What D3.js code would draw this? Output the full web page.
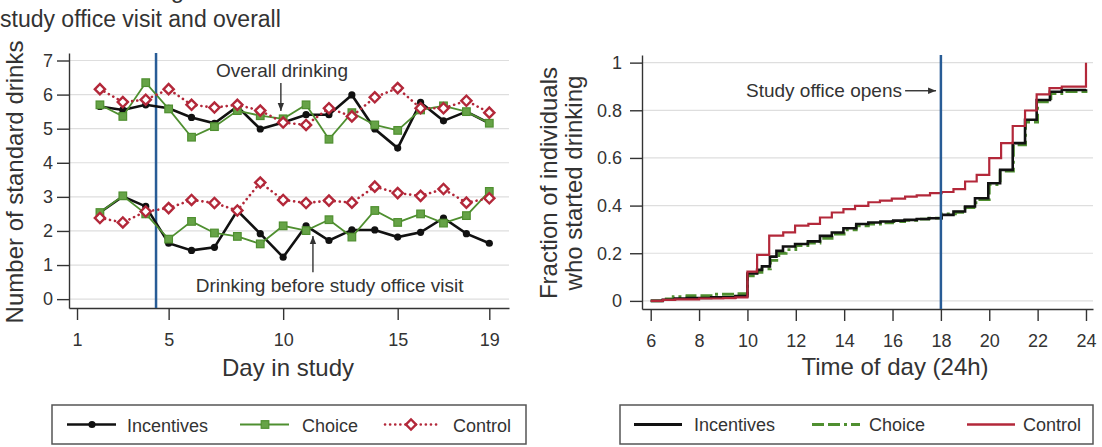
<!DOCTYPE html>
<html>
<head>
<meta charset="utf-8">
<script src="https://cdn.jsdelivr.net/npm/d3@7"></script>
<style>
  body { margin: 0; background: #fff; }
  svg { display: block; }
</style>
</head>
<body>
<svg id="chart" width="1102" height="447"></svg>
<script>
// ---- data: panel A, mean drinks per day in study ----
const days = [2, 3, 4, 5, 6, 7, 8, 9, 10, 11, 12, 13, 14, 15, 16, 17, 18, 19];
const incentivesOverall = [5.65, 5.55, 5.70, 5.60, 5.33, 5.16, 5.65, 4.99, 5.18, 5.41, 5.41, 5.99, 4.99, 4.43, 5.77, 5.23, 5.50, 5.16];
const choiceOverall = [5.70, 5.36, 6.35, 5.58, 4.75, 5.06, 5.53, 5.38, 5.29, 5.70, 4.69, 5.47, 5.11, 4.95, 5.55, 5.67, 5.50, 5.16];
const controlOverall = [6.16, 5.78, 5.85, 6.16, 5.70, 5.62, 5.70, 5.53, 5.18, 5.11, 5.60, 5.36, 5.92, 6.19, 5.60, 5.60, 5.82, 5.47];
const incentivesBefore = [2.54, 3.01, 2.72, 1.64, 1.43, 1.52, 2.60, 1.92, 1.23, 2.15, 1.72, 2.03, 2.03, 1.82, 1.96, 2.38, 1.92, 1.64];
const choiceBefore = [2.54, 3.03, 2.50, 1.76, 2.28, 1.94, 1.84, 1.62, 2.15, 2.01, 2.33, 1.82, 2.60, 2.25, 2.50, 2.23, 2.45, 3.16];
const controlBefore = [2.38, 2.25, 2.57, 2.67, 2.91, 2.82, 2.60, 3.42, 2.91, 2.82, 2.89, 2.83, 3.30, 3.11, 3.03, 3.23, 2.83, 2.96];
const leftYTicks = [0, 1, 2, 3, 4, 5, 6, 7];
const leftXTicks = [1, 5, 10, 15, 19];
const visitDay = 4.45;

// ---- data: panel B, cumulative share who started drinking, [hour, share] ----
const incentivesSteps = [[6, 0], [6.5, 0.005], [7, 0.01], [7.5, 0.012], [8.5, 0.015], [9.5, 0.02], [10, 0.115], [10.4, 0.13], [10.6, 0.145], [10.93, 0.186], [11.2, 0.21], [11.47, 0.228], [11.97, 0.239], [12.5, 0.25], [13.0, 0.273], [13.49, 0.287], [13.97, 0.305], [14.5, 0.323], [15.0, 0.329], [15.5, 0.333], [16.03, 0.337], [16.5, 0.34], [17.0, 0.344], [17.5, 0.347], [18.03, 0.361], [18.52, 0.375], [19.0, 0.396], [19.41, 0.431], [19.96, 0.494], [20.45, 0.55], [20.97, 0.662], [21.48, 0.76], [21.96, 0.843], [22.51, 0.878], [23.0, 0.885], [24, 0.888]];
const choiceSteps = [[6, 0], [6.5, 0.008], [6.93, 0.018], [7.5, 0.022], [8.6, 0.028], [9.5, 0.03], [10, 0.105], [10.4, 0.12], [10.6, 0.135], [10.95, 0.17], [11.3, 0.2], [11.6, 0.215], [12.0, 0.232], [12.5, 0.243], [13.0, 0.262], [13.5, 0.28], [14.0, 0.298], [14.5, 0.315], [15.0, 0.322], [15.5, 0.328], [16.0, 0.333], [16.5, 0.338], [17.0, 0.343], [17.5, 0.347], [18.03, 0.365], [18.6, 0.372], [19.0, 0.392], [19.45, 0.425], [20.0, 0.488], [20.45, 0.545], [21.0, 0.655], [21.5, 0.75], [22.0, 0.835], [22.55, 0.87], [23.0, 0.878], [24, 0.882]];
const controlSteps = [[6, 0], [6.5, 0.004], [7, 0.006], [8, 0.01], [9, 0.012], [9.5, 0.015], [10, 0.123], [10.4, 0.193], [10.9, 0.274], [11.48, 0.288], [11.97, 0.316], [12.52, 0.323], [13.0, 0.35], [13.49, 0.371], [13.97, 0.385], [14.45, 0.399], [15.0, 0.414], [15.48, 0.421], [15.97, 0.429], [16.52, 0.438], [17.0, 0.443], [17.55, 0.452], [18.03, 0.457], [18.52, 0.469], [19.0, 0.501], [19.48, 0.529], [20.0, 0.599], [20.49, 0.662], [20.97, 0.734], [21.48, 0.799], [21.96, 0.867], [22.49, 0.893], [23.0, 0.899], [24, 1.0]];
const rightYTicks = [0, 0.2, 0.4, 0.6, 0.8, 1];
const rightXTicks = [6, 8, 10, 12, 14, 16, 18, 20, 22, 24];
const officeOpens = 18;

const groups = ['Incentives', 'Choice', 'Control'];

// ---- styles ----
const font = '"Liberation Sans", Arial, Helvetica, sans-serif';
const ink = '#333';
const axisCol = '#333';
const gridCol = '#dedede';
const colInc = '#111';
const colCho = '#4f8f30';
const colCon = '#b3283a';
const colVisit = '#285c96';

const svg = d3.select('#chart').attr('font-family', font);
const defs = svg.append('defs');
defs.append('marker')
  .attr('id', 'arrow')
  .attr('viewBox', '0 -5 10 10')
  .attr('refX', 10)
  .attr('refY', 0)
  .attr('markerWidth', 8)
  .attr('markerHeight', 8)
  .attr('markerUnits', 'userSpaceOnUse')
  .attr('orient', 'auto')
  .append('path')
  .attr('d', 'M0,-4L10,0L0,4Z')
  .attr('fill', ink);

function styleAxis(g) {
  g.attr('font-size', 18).attr('font-family', font);
  g.select('.domain').attr('stroke', axisCol).attr('stroke-width', 1.4);
  g.selectAll('.tick line').attr('stroke', axisCol).attr('stroke-width', 1.4);
  g.selectAll('.tick text').attr('fill', ink);
}

// ================= Panel A =================
const xL = d3.scaleLinear().domain([0.65, 19.86]).range([69, 509]);
const yL = d3.scaleLinear().domain([-0.26, 7.22]).range([308, 53]);

// partly cut first title line, then the second line
svg.append('text').attr('x', 0).attr('y', -2.5).attr('font-size', 24).attr('fill', ink).text('Panel A. Drinking before');
svg.append('text').attr('x', 0).attr('y', 27).attr('font-size', 23).attr('fill', ink).text('study office visit and overall');

svg.append('g')
  .selectAll('line')
  .data(leftYTicks)
  .join('line')
  .attr('x1', xL.range()[0])
  .attr('x2', xL.range()[1])
  .attr('y1', (d) => yL(d))
  .attr('y2', (d) => yL(d))
  .attr('stroke', gridCol)
  .attr('stroke-width', 1.2);

const axLY = svg.append('g')
  .attr('transform', `translate(${xL.range()[0]},0)`)
  .call(d3.axisLeft(yL).tickValues(leftYTicks).tickSize(12).tickSizeOuter(0).tickPadding(4));
styleAxis(axLY);

const axLX = svg.append('g')
  .attr('transform', `translate(0,${yL.range()[0]})`)
  .call(d3.axisBottom(xL).tickValues(leftXTicks).tickSize(12).tickSizeOuter(0).tickPadding(13));
styleAxis(axLX);

svg.append('line')
  .attr('x1', xL(visitDay)).attr('x2', xL(visitDay))
  .attr('y1', yL.range()[1]).attr('y2', yL.range()[0])
  .attr('stroke', colVisit).attr('stroke-width', 2.5);

const lineL = d3.line().x((d, i) => xL(days[i])).y((d) => yL(d));

function drawSeries(values, kind) {
  const g = svg.append('g');
  if (kind === 'Incentives') {
    g.append('path').attr('d', lineL(values)).attr('fill', 'none').attr('stroke', colInc).attr('stroke-width', 2.6);
    g.selectAll('circle').data(values).join('circle')
      .attr('cx', (d, i) => xL(days[i])).attr('cy', (d) => yL(d)).attr('r', 3.6).attr('fill', colInc);
  } else if (kind === 'Choice') {
    g.append('path').attr('d', lineL(values)).attr('fill', 'none').attr('stroke', colCho).attr('stroke-width', 1.8);
    g.selectAll('rect').data(values).join('rect')
      .attr('x', (d, i) => xL(days[i]) - 3.8).attr('y', (d) => yL(d) - 3.8)
      .attr('width', 7.6).attr('height', 7.6)
      .attr('fill', '#66a347').attr('stroke', colCho).attr('stroke-width', 1.2);
  } else {
    g.append('path').attr('d', lineL(values)).attr('fill', 'none').attr('stroke', colCon)
      .attr('stroke-width', 2.6).attr('stroke-linecap', 'round').attr('stroke-dasharray', '0.1,5');
    g.selectAll('path.mk').data(values).join('path').attr('class', 'mk')
      .attr('d', d3.symbol(d3.symbolSquare, 52)())
      .attr('transform', (d, i) => `translate(${xL(days[i])},${yL(d)}) rotate(45)`)
      .attr('fill', '#fff').attr('stroke', colCon).attr('stroke-width', 2.4);
  }
}
drawSeries(incentivesOverall, 'Incentives');
drawSeries(incentivesBefore, 'Incentives');
drawSeries(choiceOverall, 'Choice');
drawSeries(choiceBefore, 'Choice');
drawSeries(controlOverall, 'Control');
drawSeries(controlBefore, 'Control');

// annotations
svg.append('text').attr('x', xL(9.95)).attr('y', yL(6.52)).attr('text-anchor', 'middle')
  .attr('font-size', 19).attr('fill', ink).text('Overall drinking');
svg.append('line').attr('x1', xL(9.9)).attr('x2', xL(9.9)).attr('y1', yL(6.34)).attr('y2', yL(5.52))
  .attr('stroke', ink).attr('stroke-width', 1.4).attr('marker-end', 'url(#arrow)');
svg.append('text').attr('x', xL(12.03)).attr('y', yL(0.22)).attr('text-anchor', 'middle')
  .attr('font-size', 19).attr('fill', ink).text('Drinking before study office visit');
svg.append('line').attr('x1', xL(11.3)).attr('x2', xL(11.3)).attr('y1', yL(0.79)).attr('y2', yL(1.85))
  .attr('stroke', ink).attr('stroke-width', 1.4).attr('marker-end', 'url(#arrow)');

svg.append('text').attr('transform', 'translate(23,182) rotate(-90)').attr('text-anchor', 'middle')
  .attr('font-size', 24).attr('fill', ink).text('Number of standard drinks');
svg.append('text').attr('x', 288).attr('y', 376).attr('text-anchor', 'middle')
  .attr('font-size', 24).attr('fill', ink).text('Day in study');

// legend A
const legA = svg.append('g');
legA.append('rect').attr('x', 52).attr('y', 405).attr('width', 474).attr('height', 39)
  .attr('fill', '#fff').attr('stroke', '#555').attr('stroke-width', 1.5);
const legAx = [67, 240, 385];
groups.forEach((name, i) => {
  const x0 = legAx[i], xm = x0 + 25, yy = 424.5;
  if (name === 'Incentives') {
    legA.append('line').attr('x1', x0).attr('x2', x0 + 49).attr('y1', yy).attr('y2', yy).attr('stroke', colInc).attr('stroke-width', 2.6);
    legA.append('circle').attr('cx', xm).attr('cy', yy).attr('r', 3.6).attr('fill', colInc);
  } else if (name === 'Choice') {
    legA.append('line').attr('x1', x0).attr('x2', x0 + 49).attr('y1', yy).attr('y2', yy).attr('stroke', colCho).attr('stroke-width', 1.8);
    legA.append('rect').attr('x', xm - 3.8).attr('y', yy - 3.8).attr('width', 7.6).attr('height', 7.6)
      .attr('fill', '#66a347').attr('stroke', colCho).attr('stroke-width', 1.2);
  } else {
    legA.append('line').attr('x1', x0).attr('x2', x0 + 52).attr('y1', yy).attr('y2', yy).attr('stroke', colCon)
      .attr('stroke-width', 2.6).attr('stroke-linecap', 'round').attr('stroke-dasharray', '0.1,5');
    legA.append('path').attr('d', d3.symbol(d3.symbolSquare, 52)())
      .attr('transform', `translate(${xm + 1},${yy}) rotate(45)`)
      .attr('fill', '#fff').attr('stroke', colCon).attr('stroke-width', 2.4);
  }
  legA.append('text').attr('x', [127, 302, 453][i]).attr('y', 432).attr('font-size', 18).attr('fill', ink).text(name);
});

// ================= Panel B =================
const xR = d3.scaleLinear().domain([5.64, 24.29]).range([642, 1093]);
const yR = d3.scaleLinear().domain([-0.034, 1.032]).range([309, 55]);

svg.append('g')
  .selectAll('line')
  .data(rightYTicks)
  .join('line')
  .attr('x1', xR.range()[0])
  .attr('x2', xR.range()[1])
  .attr('y1', (d) => yR(d))
  .attr('y2', (d) => yR(d))
  .attr('stroke', gridCol)
  .attr('stroke-width', 1.2);

const axRY = svg.append('g')
  .attr('transform', `translate(${xR.range()[0]},0)`)
  .call(d3.axisLeft(yR).tickValues(rightYTicks).tickSize(12).tickSizeOuter(0).tickPadding(8)
    .tickFormat((d) => (d === 0 || d === 1 ? String(d) : d3.format('.1f')(d))));
styleAxis(axRY);

const axRX = svg.append('g')
  .attr('transform', `translate(0,${yR.range()[0]})`)
  .call(d3.axisBottom(xR).tickValues(rightXTicks).tickSize(12).tickSizeOuter(0).tickPadding(13));
styleAxis(axRX);

const stepLine = d3.line().x((d) => xR(d[0])).y((d) => yR(d[1])).curve(d3.curveStepAfter);

svg.append('path').attr('d', stepLine(choiceSteps)).attr('fill', 'none').attr('stroke', colCho)
  .attr('stroke-width', 2.8).attr('stroke-dasharray', '12,4,12,4,3,4');
svg.append('path').attr('d', stepLine(incentivesSteps)).attr('fill', 'none').attr('stroke', colInc)
  .attr('stroke-width', 2.6);
svg.append('path').attr('d', stepLine(controlSteps)).attr('fill', 'none').attr('stroke', colCon)
  .attr('stroke-width', 2.2);

svg.append('line')
  .attr('x1', xR(officeOpens)).attr('x2', xR(officeOpens))
  .attr('y1', yR.range()[1]).attr('y2', yR.range()[0])
  .attr('stroke', colVisit).attr('stroke-width', 2.5);

svg.append('text').attr('x', xR(16.39)).attr('y', yR(0.882) + 6.5).attr('text-anchor', 'end')
  .attr('font-size', 19).attr('fill', ink).text('Study office opens');
svg.append('line').attr('x1', xR(16.52)).attr('x2', xR(17.8)).attr('y1', yR(0.882)).attr('y2', yR(0.882))
  .attr('stroke', ink).attr('stroke-width', 1.4).attr('marker-end', 'url(#arrow)');

svg.append('text').attr('transform', 'translate(557,183) rotate(-90)').attr('text-anchor', 'middle')
  .attr('font-size', 24).attr('fill', ink).text('Fraction of individuals');
svg.append('text').attr('transform', 'translate(582,183) rotate(-90)').attr('text-anchor', 'middle')
  .attr('font-size', 24).attr('fill', ink).text('who started drinking');
svg.append('text').attr('x', 895).attr('y', 375).attr('text-anchor', 'middle')
  .attr('font-size', 24).attr('fill', ink).text('Time of day (24h)');

// legend B
const legB = svg.append('g');
legB.append('rect').attr('x', 620).attr('y', 405).attr('width', 473).attr('height', 39)
  .attr('fill', '#fff').attr('stroke', '#555').attr('stroke-width', 1.5);
const legBx = [634, 812, 967];
const legBStyle = [
  { c: colInc, w: 2.8, dash: null },
  { c: colCho, w: 2.8, dash: '12,4,12,4,3,4' },
  { c: colCon, w: 2.4, dash: null },
];
groups.forEach((name, i) => {
  const s = legBStyle[i];
  legB.append('line').attr('x1', legBx[i]).attr('x2', legBx[i] + 48).attr('y1', 424.5).attr('y2', 424.5)
    .attr('stroke', s.c).attr('stroke-width', s.w).attr('stroke-dasharray', s.dash);
  legB.append('text').attr('x', [694, 869, 1023][i]).attr('y', 431).attr('font-size', 18).attr('fill', ink).text(name);
});
</script>
</body>
</html>
